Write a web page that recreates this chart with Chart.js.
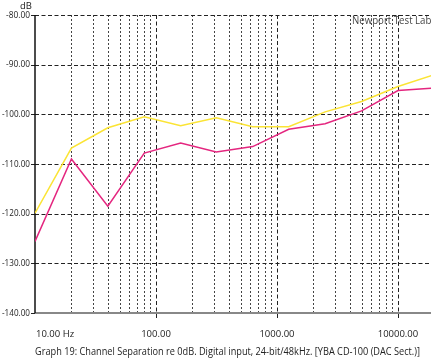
<!DOCTYPE html>
<html>
<head>
<meta charset="utf-8">
<script src="https://cdn.jsdelivr.net/npm/chart.js@4.4.0/dist/chart.umd.min.js"></script>
<style>
html, body { margin: 0; padding: 0; background: #fff; }
#wrap { width: 431px; height: 364px; position: relative; }
</style>
</head>
<body>
<div id="wrap"><canvas id="separation"></canvas></div>
<script>
// measured points (Hz / dB)
const freqs = [10, 20, 40, 80, 160, 315, 630, 1250, 2500, 5000, 10000, 20000];
const yellowDb = [-119.9, -106.8, -102.7, -100.5, -102.3, -100.7, -102.5, -102.5, -99.5, -97.4, -94.4, -92.0];
const magentaDb = [-125.6, -109.0, -118.5, -107.8, -105.8, -107.6, -106.5, -103.0, -101.9, -99.3, -95.2, -94.7];

const yTicks = [-80, -90, -100, -110, -120, -130, -140];
const yLabels = ['-80.00', '-90.00', '-100.00', '-110.00', '-120.00', '-130.00', '-140.00'];
const xMajor = [10, 100, 1000, 10000];
const xLabels = ['10.00 Hz', '100.00', '1000.00', '10000.00'];
const xMinorSteps = [2, 3, 4, 5, 6, 7, 8, 9];

const FONT = '"Open Sans", "Noto Sans", sans-serif';

const framePlugin = {
    id: 'frame',
    beforeDatasetsDraw(chart) {
        const ctx = chart.ctx;
        const a = chart.chartArea;
        const x = chart.scales.x, y = chart.scales.y;
        ctx.save();

        // minor verticals (dotted)
        ctx.strokeStyle = '#444';
        ctx.lineWidth = 1;
        ctx.setLineDash([2, 2]);
        xMajor.forEach(d => {
            xMinorSteps.forEach(m => {
                const v = d * m;
                if (v > x.max) return;
                const px = Math.round(x.getPixelForValue(v)) + 0.5;
                ctx.beginPath(); ctx.moveTo(px, a.top); ctx.lineTo(px, a.bottom); ctx.stroke();
            });
        });

        // decade verticals (dashed, run a bit past the axis)
        ctx.strokeStyle = '#222';
        ctx.setLineDash([4, 2.5]);
        xMajor.slice(1).forEach(v => {
            const px = Math.round(x.getPixelForValue(v)) + 0.5;
            ctx.beginPath(); ctx.moveTo(px, a.top); ctx.lineTo(px, a.bottom + 6); ctx.stroke();
        });

        // horizontals
        ctx.strokeStyle = '#222';
        yTicks.slice(0, -1).forEach(v => {
            const py = Math.round(y.getPixelForValue(v)) + 0.5;
            ctx.beginPath(); ctx.moveTo(a.left, py); ctx.lineTo(a.right, py); ctx.stroke();
        });
        ctx.setLineDash([]);

        // left tick marks
        ctx.strokeStyle = '#222';
        yTicks.forEach(v => {
            const py = Math.round(y.getPixelForValue(v)) + 0.5;
            ctx.beginPath(); ctx.moveTo(a.left - 4, py); ctx.lineTo(a.left, py); ctx.stroke();
        });

        // axes
        ctx.strokeStyle = '#888';
        ctx.lineWidth = 2;
        ctx.beginPath(); ctx.moveTo(a.left, a.bottom); ctx.lineTo(a.right, a.bottom); ctx.stroke();
        ctx.strokeStyle = '#111';
        ctx.lineWidth = 1.5;
        ctx.beginPath(); ctx.moveTo(a.left, a.top); ctx.lineTo(a.left, a.bottom); ctx.stroke();
        ctx.restore();
    },
    afterDraw(chart) {
        const ctx = chart.ctx;
        const a = chart.chartArea;
        const x = chart.scales.x, y = chart.scales.y;
        ctx.save();
        ctx.fillStyle = '#222';
        ctx.textBaseline = 'middle';

        ctx.font = '9.5px ' + FONT;
        ctx.textAlign = 'right';
        yTicks.forEach((v, i) => ctx.fillText(yLabels[i], a.left - 5, y.getPixelForValue(v), yLabels[i].length > 6 ? 28 : 24));

        ctx.textAlign = 'center';
        ctx.fillText('dB', 26, 6);

        xMajor.forEach((v, i) => {
            const px = x.getPixelForValue(v);
            if (i === 0) {
                ctx.textAlign = 'left';
                ctx.fillText(xLabels[i], px + 1, a.bottom + 21);
            } else {
                ctx.textAlign = 'center';
                ctx.fillText(xLabels[i], px, a.bottom + 21);
            }
        });

        ctx.textAlign = 'left';
        ctx.font = '10px ' + FONT;
        ctx.fillText('Graph 19: Channel Separation re 0dB. Digital input, 24-bit/48kHz. [YBA CD-100 (DAC Sect.)]', a.left, a.bottom + 39, 385);

        ctx.fillStyle = '#444';
        ctx.fillText('Newport Test Labs', 352, 21, 84);
        ctx.restore();
    }
};

new Chart(document.getElementById('separation'), {
    type: 'line',
    data: {
        datasets: [
            {
                data: freqs.map((f, i) => ({x: f, y: yellowDb[i]})),
                borderColor: '#fbe434',
                borderWidth: 1.5,
                pointRadius: 0,
                tension: 0
            },
            {
                data: freqs.map((f, i) => ({x: f, y: magentaDb[i]})),
                borderColor: '#e4267f',
                borderWidth: 1.5,
                pointRadius: 0,
                tension: 0
            }
        ]
    },
    options: {
        responsive: true,
        maintainAspectRatio: false,
        animation: false,
        layout: { padding: { left: 35, top: 15, right: 0, bottom: 51 } },
        scales: {
            x: { type: 'logarithmic', min: 10, max: 18750, display: false },
            y: { type: 'linear', min: -140, max: -80, display: false }
        },
        plugins: {
            legend: { display: false },
            tooltip: { enabled: false }
        }
    },
    plugins: [framePlugin]
});
</script>
</body>
</html>
